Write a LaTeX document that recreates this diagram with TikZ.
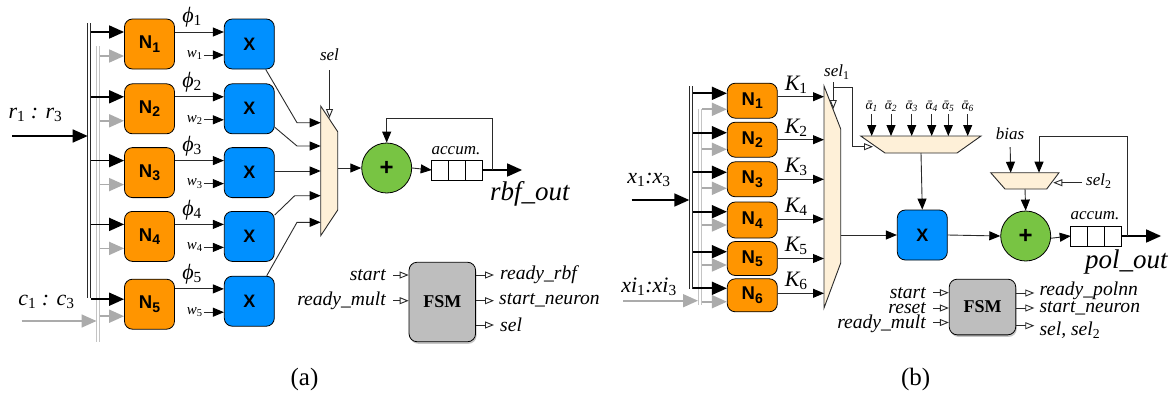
\documentclass[tikz,border=0pt]{standalone}
\usepackage{fontspec}
\setmainfont{Liberation Serif}
\setsansfont{Liberation Sans}
\usepackage{xcolor}
\usetikzlibrary{arrows.meta,calc,positioning,shadows}
\definecolor{neuronor}{HTML}{FF9500}
\definecolor{multbl}{HTML}{0090FF}
\definecolor{addgr}{HTML}{78C443}
\definecolor{muxcr}{HTML}{FEF0D8}
\definecolor{fsmgr}{HTML}{BEBEBE}
\definecolor{wiregr}{HTML}{ABABAB}
\definecolor{edgegr}{HTML}{2A2A2A}
\newcommand{\nlab}[1]{N\raisebox{-3.5pt}{\fontsize{14}{14}\selectfont #1}}

\begin{document}
\begin{tikzpicture}[x=1pt,y=-1pt,>={Triangle[length=11pt,width=9pt,color=black]},
  neuron/.style={draw=black,line width=.8pt,rounded corners=8pt,fill=neuronor,minimum width=50pt,inner sep=0pt,font=\sffamily\bfseries\fontsize{18.5}{20}\selectfont},
  neua/.style={neuron,minimum height=50pt},
  mult/.style={draw=black,line width=.8pt,rounded corners=8pt,fill=multbl,minimum width=50pt,minimum height=50pt,inner sep=0pt,font=\sffamily\bfseries\fontsize{18}{20}\selectfont},
  adder/.style={draw=black,line width=.8pt,circle,fill=addgr,minimum size=50pt,inner sep=0pt,font=\sffamily\bfseries\fontsize{24}{26}\selectfont},
  cell/.style={draw=black,line width=.8pt,fill=white,minimum width=16.8pt,minimum height=20pt,inner sep=0pt,outer sep=0pt},
  mux/.style={draw=edgegr,line width=.9pt,fill=muxcr},
  fsm/.style={draw=black,line width=.8pt,rounded corners=8pt,fill=fsmgr,minimum width=66.5pt,inner sep=0pt,font=\bfseries\fontsize{18}{20}\selectfont,drop shadow={shadow xshift=1pt,shadow yshift=-2pt,opacity=.45}},
  lbl/.style={inner sep=0pt,font=\itshape\fontsize{19.6}{21}\selectfont},
  lblbig/.style={inner sep=0pt,font=\itshape\fontsize{27}{29}\selectfont},
  lblmid/.style={inner sep=0pt,font=\itshape\fontsize{22}{24}\selectfont},
  lblw/.style={inner sep=1pt,font=\itshape\fontsize{15}{17}\selectfont},
  lblacc/.style={inner sep=0pt,font=\itshape\fontsize{17}{19}\selectfont},
  lblalpha/.style={inner sep=0pt,font=\itshape\fontsize{13.5}{15}\selectfont},
  capt/.style={inner sep=0pt,font=\fontsize{25}{27}\selectfont},
  arr/.style={->,draw=edgegr,line width=.9pt},
  thick arr/.style={-{Triangle[length=15pt,width=13pt]},draw=black,line width=1.7pt},
  grey arr/.style={-{Triangle[length=15pt,width=13pt]},draw=wiregr,line width=1.7pt},
  ctl/.style={-{Triangle[open,length=9pt,width=7pt,fill=white]},draw=edgegr,line width=.9pt},
  bus/.style={draw=edgegr,line width=1pt,double=white,double distance=2pt},
  grey bus/.style={draw=wiregr!70,line width=1pt,double=white,double distance=2pt}]
\useasboundingbox (0,0) rectangle (1176,397);

% ---- (a) rbf ----
\node[neua] (na1) at (149.5,44) {\nlab{1}};
\node[neua,below=14pt of na1] (na2) {\nlab{2}};
\node[neua,below=13pt of na2] (na3) {\nlab{3}};
\node[neua,below=13pt of na3] (na4) {\nlab{4}};
\node[neua,below=17pt of na4] (na5) {\nlab{5}};
\node[mult,right=49pt of na1] (xa1) {X};
\node[mult,right=49pt of na2] (xa2) {X};
\node[mult,right=49pt of na3] (xa3) {X};
\node[mult,right=49pt of na4] (xa4) {X};
\node[mult,right=49pt of na5,yshift=3pt] (xa5) {X};
\coordinate (muxas) at (320.7,170.8);
\coordinate (muxan) at (337.7,170.8);
\draw[mux] (320.7,106) -- (337.7,131.7) -- (337.7,210) -- (320.7,235.7) -- cycle;
\node[adder] (adda) at (386.7,168) {+};
\node[cell] (aa1) at (440.1,170) {};
\node[cell,right=0pt of aa1] (aa2) {};
\node[cell,right=0pt of aa2] (aa3) {};
\node[lblacc] (accla) at (456,151) {accum.};
\node[fsm,minimum height=79.5pt] (fsma) at (442.3,302) {FSM};

\coordinate (bta) at (88.7,23);
\coordinate (bba) at (88.7,298);
\coordinate (cta) at (97.5,46);
\coordinate (cba) at (97.5,342);
\draw[bus] (bta) -- (bba);
\draw[grey bus] (cta) -- (cba);

\node[lblmid] (lra) at (35.5,115) {r\textsubscript{\upshape 1} : r\textsubscript{\upshape 3}};
\node[lblmid] (lca) at (46.5,302) {c\textsubscript{\upshape 1} : c\textsubscript{\upshape 3}};
\coordinate (ra) at (12,136);
\coordinate (ca) at (21.7,321);
\draw[thick arr,shorten >=1pt] (ra) -- (ra -| bta);
\draw[grey arr,shorten >=1pt] (ca) -- (ca -| cta);

\draw[thick arr,shorten <=2pt] ([yshift=12pt]na1.west -| bta) -- ([yshift=12pt]na1.west);
\draw[thick arr,shorten <=2pt] ([yshift=12pt]na2.west -| bta) -- ([yshift=12pt]na2.west);
\draw[thick arr,shorten <=2pt] ([yshift=12pt]na3.west -| bta) -- ([yshift=12pt]na3.west);
\draw[thick arr,shorten <=2pt] ([yshift=12pt]na4.west -| bta) -- ([yshift=12pt]na4.west);
\draw[thick arr,shorten <=2pt] ([yshift=5pt]na5.west -| bta) -- ([yshift=5pt]na5.west);
\draw[grey arr,shorten <=2pt] ([yshift=-12pt]na1.west -| cta) -- ([yshift=-12pt]na1.west);
\draw[grey arr,shorten <=2pt] ([yshift=-12pt]na2.west -| cta) -- ([yshift=-12pt]na2.west);
\draw[grey arr,shorten <=2pt] ([yshift=-12pt]na3.west -| cta) -- ([yshift=-12pt]na3.west);
\draw[grey arr,shorten <=2pt] ([yshift=-12pt]na4.west -| cta) -- ([yshift=-12pt]na4.west);
\draw[grey arr,shorten <=2pt] ([yshift=-12pt]na5.west -| cta) -- ([yshift=-12pt]na5.west);

\draw[arr] ([yshift=12pt]na1.east) --node[pos=.35,above=4pt,lblmid] (pha1) {ϕ\textsubscript{\upshape 1}} ([yshift=12pt]xa1.west);
\draw[arr] ([yshift=12pt]na2.east) --node[pos=.35,above=4pt,lblmid] (pha2) {ϕ\textsubscript{\upshape 2}} ([yshift=12pt]xa2.west);
\draw[arr] ([yshift=12pt]na3.east) --node[pos=.35,above=4pt,lblmid] (pha3) {ϕ\textsubscript{\upshape 3}} ([yshift=12pt]xa3.west);
\draw[arr] ([yshift=12pt]na4.east) --node[pos=.35,above=4pt,lblmid] (pha4) {ϕ\textsubscript{\upshape 4}} ([yshift=12pt]xa4.west);
\draw[arr] ([yshift=15.3pt]na5.east) --node[pos=.35,above=4pt,lblmid] (pha5) {ϕ\textsubscript{\upshape 5}} ([yshift=12.3pt]xa5.west);

\node[lblw,left=20pt of xa1.west,yshift=-11pt] (wa1) {w\textsubscript{\upshape 1}};
\node[lblw,left=20pt of xa2.west,yshift=-11pt] (wa2) {w\textsubscript{\upshape 2}};
\node[lblw,left=20pt of xa3.west,yshift=-11pt] (wa3) {w\textsubscript{\upshape 3}};
\node[lblw,left=20pt of xa4.west,yshift=-11pt] (wa4) {w\textsubscript{\upshape 4}};
\node[lblw,left=20pt of xa5.west,yshift=-11pt] (wa5) {w\textsubscript{\upshape 5}};
\draw[arr] (wa1) -- (xa1.west |- wa1);
\draw[arr] (wa2) -- (xa2.west |- wa2);
\draw[arr] (wa3) -- (xa3.west |- wa3);
\draw[arr] (wa4) -- (xa4.west |- wa4);
\draw[arr] (wa5) -- (xa5.west |- wa5);

\coordinate (ina1) at (297,122.7);
\coordinate (ina2) at (297,146);
\coordinate (ina3) at (297,171);
\coordinate (ina4) at (294.7,195.7);
\coordinate (ina5) at (297,222.3);
\draw[arr] ([xshift=-9pt]xa1.south east) -- (ina1) -- (ina1 -| muxas);
\draw[arr] ([yshift=7pt]xa2.south east) -- (ina2) -- (ina2 -| muxas);
\draw[arr] (ina3 -| xa3.east) -- (ina3 -| muxas);
\draw[arr] ([yshift=-4pt]xa4.north east) -- (ina4) -- (ina4 -| muxas);
\draw[arr] ([xshift=-8pt]xa5.north east) -- (ina5) -- (ina5 -| muxas);

\node[lblacc] (lsela) at (329.5,55) {sel};
\coordinate (sela0) at (329.5,70);
\coordinate (sela1) at (329.5,118);
\draw[ctl] (sela0) -- (sela1);
\draw[arr] (adda.west -| muxan) -- (adda.west);
\draw[arr] (adda.east) -- (aa1.west);
\draw[thick arr] (aa3.east) -- ++(40,0) coordinate (outa);
\coordinate (fba) at ($(aa3.east)+(10pt,0)$);
\draw[arr] (fba) -- ++(0,-52) -| (adda.north);
\node[lblbig,anchor=base west] (loa) at (490,200) {rbf\_out};

\node[lbl,anchor=east] (lstarta) at (386,275) {start};
\node[lbl,anchor=east] (lmulta) at (386,300.7) {ready\_mult};
\node[lbl,anchor=west] (lrdya) at (500,275) {ready\_rbf};
\node[lbl,anchor=west] (lnrna) at (499,300.7) {start\_neuron};
\node[lbl,anchor=west] (lsa) at (500,325) {sel};
\draw[ctl,shorten <=7pt] (lstarta.east) -- (lstarta.east -| fsma.west);
\draw[ctl,shorten <=7pt] (lmulta.east) -- (lmulta.east -| fsma.west);
\draw[ctl,shorten >=6pt] (lrdya.west -| fsma.east) -- (lrdya.west);
\draw[ctl,shorten >=5pt] (lnrna.west -| fsma.east) -- (lnrna.west);
\draw[ctl,shorten >=6pt] (lsa.west -| fsma.east) -- (lsa.west);
\node[capt] (capa) at (304.5,379) {(a)};

% ---- (b) polynomial ----
\node[neuron,minimum height=35pt] (nb1) at (752.3,100.7) {\nlab{1}};
\node[neuron,minimum height=35pt] (nb2) at (752.3,139.7) {\nlab{2}};
\node[neuron,minimum height=35pt] (nb3) at (752.3,179.3) {\nlab{3}};
\node[neuron,minimum height=36pt] (nb4) at (752.3,220) {\nlab{4}};
\node[neuron,minimum height=34pt] (nb5) at (752.3,258.5) {\nlab{5}};
\node[neuron,minimum height=33pt] (nb6) at (752.3,295.3) {\nlab{6}};
\coordinate (muxbs) at (824,197);
\coordinate (muxbn) at (840.7,197);
\draw[mux] (824,86) -- (840.7,129) -- (840.7,263) -- (824,308) -- cycle;
\coordinate (muxct) at (921,136);
\coordinate (muxcb) at (921,153);
\draw[mux] (860.7,136) -- (981,136) -- (957,153) -- (885,153) -- cycle;
\coordinate (muxdt) at (1025,172.7);
\coordinate (muxdb) at (1025,189);
\draw[mux] (990.7,172.7) -- (1059,172.7) -- (1046.7,189) -- (1005,189) -- cycle;
\node[mult] (xb) at (922.3,235) {X};
\node[adder] (addb) at (1025.7,236) {+};
\node[cell] (ab1) at (1079.1,236) {};
\node[cell,right=0pt of ab1] (ab2) {};
\node[cell,right=0pt of ab2] (ab3) {};
\node[lblacc] (acclb) at (1095,215.7) {accum.};
\node[fsm,minimum height=55.7pt] (fsmb) at (982.5,307) {FSM};

\coordinate (btb) at (691.3,86);
\coordinate (bbb) at (691.3,289);
\coordinate (ctb) at (700,109);
\coordinate (cbb) at (700,305);
\draw[bus] (btb) -- (bbb);
\draw[grey bus] (ctb) -- (cbb);

\node[lblmid] (lxb) at (649,180) {x\textsubscript{\upshape 1}:x\textsubscript{\upshape 3}};
\node[lblmid] (lxib) at (649,287) {xi\textsubscript{\upshape 1}:xi\textsubscript{\upshape 3}};
\coordinate (xb0) at (631.7,200);
\coordinate (xib0) at (623.3,300.7);
\draw[thick arr,shorten >=2pt] (xb0) -- (xb0 -| btb);
\draw[grey arr,shorten >=2pt] (xib0) -- (xib0 -| ctb);

\draw[thick arr,shorten <=2pt] ([yshift=7.4pt]nb1.west -| btb) -- ([yshift=7.4pt]nb1.west);
\draw[thick arr,shorten <=2pt] ([yshift=7pt]nb2.west -| btb) -- ([yshift=7pt]nb2.west);
\draw[thick arr,shorten <=2pt] ([yshift=7pt]nb3.west -| btb) -- ([yshift=7pt]nb3.west);
\draw[thick arr,shorten <=2pt] ([yshift=8.3pt]nb4.west -| btb) -- ([yshift=8.3pt]nb4.west);
\draw[thick arr,shorten <=2pt] ([yshift=6.8pt]nb5.west -| btb) -- ([yshift=6.8pt]nb5.west);
\draw[thick arr,shorten <=2pt] ([yshift=7pt]nb6.west -| btb) -- ([yshift=7pt]nb6.west);
\draw[grey arr,shorten <=2pt] ([yshift=-8.6pt]nb1.west -| ctb) -- ([yshift=-8.6pt]nb1.west);
\draw[grey arr,shorten <=2pt] ([yshift=-9.6pt]nb2.west -| ctb) -- ([yshift=-9.6pt]nb2.west);
\draw[grey arr,shorten <=2pt] ([yshift=-9pt]nb3.west -| ctb) -- ([yshift=-9pt]nb3.west);
\draw[grey arr,shorten <=2pt] ([yshift=-5pt]nb4.west -| ctb) -- ([yshift=-5pt]nb4.west);
\draw[grey arr,shorten <=2pt] ([yshift=-6.5pt]nb5.west -| ctb) -- ([yshift=-6.5pt]nb5.west);
\draw[grey arr,shorten <=2pt] ([yshift=-6.4pt]nb6.west -| ctb) -- ([yshift=-6.4pt]nb6.west);

\draw[arr] ([yshift=4pt]nb1.east) --node[pos=.4,above=3pt,lblmid] (kb1) {K\textsubscript{\upshape 1}} ([yshift=4pt]nb1.east -| muxbs);
\draw[arr] (nb2.east) --node[pos=.4,above=3pt,lblmid] (kb2) {K\textsubscript{\upshape 2}} (nb2.east -| muxbs);
\draw[arr] (nb3.east) --node[pos=.4,above=3pt,lblmid] (kb3) {K\textsubscript{\upshape 3}} (nb3.east -| muxbs);
\draw[arr] ([yshift=1pt]nb4.east) --node[pos=.4,above=3pt,lblmid] (kb4) {K\textsubscript{\upshape 4}} ([yshift=1pt]nb4.east -| muxbs);
\draw[arr] (nb5.east) --node[pos=.4,above=3pt,lblmid] (kb5) {K\textsubscript{\upshape 5}} (nb5.east -| muxbs);
\draw[arr] ([yshift=2pt]nb6.east) --node[pos=.4,above=3pt,lblmid] (kb6) {K\textsubscript{\upshape 6}} ([yshift=2pt]nb6.east -| muxbs);

\node[lblacc,anchor=west] (lselb) at (824,72) {sel\textsubscript{\upshape 1}};
\coordinate (sb0) at (833.3,82);
\coordinate (sb1) at (833.3,87);
\coordinate (sb2) at (873,146.7);
\coordinate (sb3) at (833.3,109);
\draw[ctl] (sb0) -- (sb3);
\draw[ctl] (sb1) -- ++(19.4,0) |- (sb2);

\node[lblalpha] (la1) at (871.7,106.7) {ᾱ\textsubscript{1}};
\node[lblalpha] (la2) at (891,106.7) {ᾱ\textsubscript{2}};
\node[lblalpha] (la3) at (911.7,106.7) {ᾱ\textsubscript{3}};
\node[lblalpha] (la4) at (931.7,106.7) {ᾱ\textsubscript{4}};
\node[lblalpha] (la5) at (948.3,106.7) {ᾱ\textsubscript{5}};
\node[lblalpha] (la6) at (967.7,106.7) {ᾱ\textsubscript{6}};
\draw[arr,shorten <=2pt] (la1.south) -- (la1 |- muxct);
\draw[arr,shorten <=2pt] (la2.south) -- (la2 |- muxct);
\draw[arr,shorten <=2pt] (la3.south) -- (la3 |- muxct);
\draw[arr,shorten <=2pt] (la4.south) -- (la4 |- muxct);
\draw[arr,shorten <=2pt] (la5.south) -- (la5 |- muxct);
\draw[arr,shorten <=2pt] (la6.south) -- (la6 |- muxct);
\draw[arr] (muxcb) -- (xb.north);
\draw[arr] (xb.west -| muxbn) -- (xb.west);
\draw[arr] (xb.east) -- (addb.west);
\draw[arr] (addb.-5) -- (ab1.west);
\draw[arr] (muxdb) -- (addb.north);
\draw[thick arr] (ab3.east) -- ++(40,0) coordinate (outb);
\coordinate (fbb) at ($(ab3.east)+(6pt,0)$);
\coordinate (fbc) at (1039,172.7);
\draw[arr] (fbb) -- ++(0,-100) -| (fbc);

\node[lblacc] (lbias) at (1010,134) {bias};
\coordinate (bia1) at (1010.7,172.7);
\draw[arr,shorten <=7pt] (lbias.south) -- (bia1);
\node[lblacc,anchor=west] (lsel2) at (1086,181) {sel\textsubscript{\upshape 2}};
\coordinate (sel2a) at (1053.3,182.7);
\draw[ctl,shorten <=4pt] (sel2a -| lsel2.west) -- (sel2a);
\node[lblbig,anchor=base west] (lob) at (1085,268) {pol\_out};

\node[lbl,anchor=east] (lstartb) at (926,292.7) {start};
\node[lbl,anchor=east] (lresetb) at (926,308) {reset};
\node[lbl,anchor=east] (lmultb) at (926,324) {ready\_mult};
\node[lbl,anchor=west] (lrdyb) at (1039.3,291) {ready\_polnn};
\node[lbl,anchor=west] (lnrnb) at (1039.3,308) {start\_neuron};
\node[lbl,anchor=west] (lsb) at (1039.3,330) {sel, sel\textsubscript{\upshape 2}};
\draw[ctl,shorten <=7pt] (lstartb.east) -- (lstartb.east -| fsmb.west);
\draw[ctl,shorten <=7pt] (lresetb.east) -- (lresetb.east -| fsmb.west);
\draw[ctl,shorten <=7pt] ([yshift=1.5pt]lmultb.east) -- ([yshift=1.5pt]lmultb.east -| fsmb.west);
\draw[ctl,shorten >=5pt] ([yshift=-2pt]lrdyb.west -| fsmb.east) -- ([yshift=-2pt]lrdyb.west);
\draw[ctl,shorten >=5pt] (lnrnb.west -| fsmb.east) -- (lnrnb.west);
\draw[ctl,shorten >=5pt] ([yshift=4.3pt]lsb.west -| fsmb.east) -- ([yshift=4.3pt]lsb.west);
\node[capt] (capb) at (915.7,379) {(b)};
\end{tikzpicture}
\end{document}
